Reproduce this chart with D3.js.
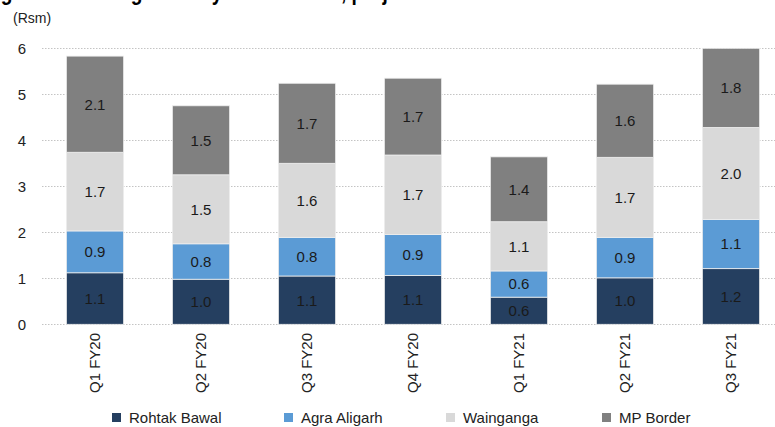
<!DOCTYPE html>
<html>
<head>
<meta charset="utf-8">
<script src="https://cdn.jsdelivr.net/npm/d3@7"></script>
<style>
  html, body { margin: 0; padding: 0; background: #fff; }
  svg { display: block; }
  text { font-family: "Liberation Sans Narrow", "Arial Narrow", "Liberation Sans", sans-serif; }
</style>
</head>
<body>
<svg id="chart" width="775" height="427"></svg>
<script>
const categories = ["Q1 FY20", "Q2 FY20", "Q3 FY20", "Q4 FY20", "Q1 FY21", "Q2 FY21", "Q3 FY21"];
const seriesNames = ["Rohtak Bawal", "Agra Aligarh", "Wainganga", "MP Border"];
const rohtakBawal = [1.12, 0.98, 1.05, 1.06, 0.59, 1.01, 1.21];
const agraAligarh = [0.91, 0.77, 0.84, 0.89, 0.57, 0.88, 1.07];
const wainganga   = [1.71, 1.50, 1.61, 1.73, 1.07, 1.74, 2.00];
const mpBorder    = [2.09, 1.50, 1.74, 1.67, 1.41, 1.59, 1.80];
const yTicks = [0, 1, 2, 3, 4, 5, 6];
const unitLabel = "(Rsm)";
const titleText = "Strong toll revenue growth by all toll roads, project-wise";
const colors = ["#253f60", "#5b9bd5", "#d9d9d9", "#808080"];

const seriesValues = [rohtakBawal, agraAligarh, wainganga, mpBorder];
const rows = categories.map((c, i) => {
  const r = { cat: c };
  seriesNames.forEach((s, j) => r[s] = seriesValues[j][i]);
  return r;
});

const svg = d3.select("#chart");
const x = d3.scaleBand().domain(categories).range([42, 784]).paddingInner(0.46).paddingOuter(0.23);
const y = d3.scaleLinear().domain([0, 6]).range([324.3, 48.3]).clamp(true);

// title (cropped at top of the picture)
const titleG = svg.append("g").attr("transform", "scale(0.8,1)");
const title = titleG.append("text")
  .attr("y", 0)
  .attr("font-size", 24)
  .attr("font-weight", "bold")
  .attr("fill", "#000")
  .text(titleText);
const shift = title.node().getSubStringLength(0, 5);
title.attr("x", -shift + 1);

// unit label
svg.append("text").attr("x", 13).attr("y", 23).attr("font-size", 14).attr("fill", "#222").text(unitLabel);

// gridlines
svg.append("g").selectAll("line").data(yTicks).join("line")
  .attr("x1", 42).attr("x2", 775)
  .attr("y1", d => Math.round(y(d)) + 0.5).attr("y2", d => Math.round(y(d)) + 0.5)
  .attr("stroke", "#c4c4c4").attr("stroke-width", 1).attr("stroke-dasharray", "1.5,1.5");

// y axis labels
const yAxis = d3.axisLeft(y).tickValues(yTicks).tickSize(0).tickPadding(0).tickFormat(d3.format("d"));
const ya = svg.append("g").attr("transform", "translate(26,0)").call(yAxis);
ya.select(".domain").remove();
ya.selectAll("text").attr("font-size", 15).attr("fill", "#222").attr("font-family", null);

// stacked bars
const stack = d3.stack().keys(seriesNames);
const stacked = stack(rows);
const layers = svg.append("g").selectAll("g").data(stacked).join("g")
  .attr("fill", (d, i) => colors[i]);
layers.selectAll("rect").data(d => d.map(p => ({ p, cat: p.data.cat }))).join("rect")
  .attr("x", d => x(d.cat))
  .attr("width", x.bandwidth())
  .attr("y", d => y(d.p[1]))
  .attr("height", d => y(d.p[0]) - y(d.p[1]))
  .attr("stroke", "#eeeeee").attr("stroke-width", 0.8);

// value labels
const labels = svg.append("g");
stacked.forEach((layer, i) => {
  labels.selectAll(null).data(layer).join("text")
    .attr("x", d => x(d.data.cat) + x.bandwidth() / 2)
    .attr("y", d => (y(d[0]) + y(d[1])) / 2)
    .attr("dy", "0.36em")
    .attr("text-anchor", "middle")
    .attr("font-size", 15)
    .attr("fill", "#1a1a1a")
    .text(d => (d[1] - d[0]).toFixed(1));
});

// x axis labels (rotated)
const xAxis = d3.axisBottom(x).tickSize(0).tickPadding(0);
const xa = svg.append("g").attr("transform", "translate(0,324)").call(xAxis);
xa.select(".domain").remove();
xa.selectAll("text")
  .attr("font-size", 15).attr("fill", "#222").attr("font-family", null)
  .attr("transform", "rotate(-90)")
  .attr("text-anchor", "end")
  .attr("x", -9).attr("y", 0).attr("dy", "0.36em");

// legend
const legendX = [112, 284, 446, 602];
const lg = svg.append("g").selectAll("g").data(seriesNames).join("g")
  .attr("transform", (d, i) => `translate(${legendX[i]},413)`);
lg.append("rect").attr("width", 9).attr("height", 9).attr("fill", (d, i) => colors[i]);
lg.append("text").attr("x", 17).attr("y", 9.5).attr("font-size", 15).attr("fill", "#222").text(d => d);
</script>
</body>
</html>
